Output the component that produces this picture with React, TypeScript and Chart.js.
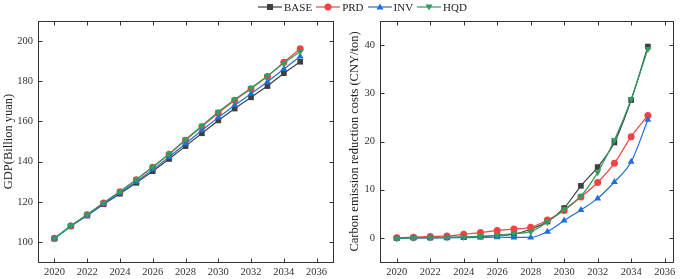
import React, { useEffect, useRef } from "react";
import { Chart, registerables } from "chart.js";
Chart.register(...registerables);

const years = [2020, 2021, 2022, 2023, 2024, 2025, 2026, 2027, 2028, 2029, 2030, 2031, 2032, 2033, 2034, 2035];
const xTicks = [2020, 2022, 2024, 2026, 2028, 2030, 2032, 2034, 2036];
const gdpTicks = [100, 120, 140, 160, 180, 200];
const costTicks = [0, 10, 20, 30, 40];
const seriesNames = ["BASE", "PRD", "INV", "HQD"];

const gdpBASE = [101.7, 107.8, 113.1, 118.8, 124.0, 129.4, 135.2, 141.3, 147.7, 154.1, 160.5, 166.4, 172.0, 177.6, 184.0, 189.7];
const gdpPRD = [101.7, 107.9, 113.5, 119.4, 125.0, 131.0, 137.2, 143.6, 150.6, 157.4, 164.2, 170.5, 176.3, 182.4, 189.5, 196.2];
const gdpINV = [101.7, 107.9, 113.3, 119.0, 124.4, 130.0, 136.0, 142.3, 148.9, 155.6, 162.0, 168.0, 173.8, 179.8, 186.1, 192.3];
const gdpHQD = [101.7, 108.0, 113.6, 119.5, 125.1, 131.1, 137.4, 143.8, 151.0, 157.8, 164.8, 170.9, 176.6, 182.6, 189.1, 194.8];

const costBASE = [0, 0.05, 0.05, 0.1, 0.15, 0.3, 0.5, 0.8, 1.8, 3.4, 6.2, 10.8, 14.7, 19.8, 28.6, 39.7];
const costPRD = [0.05, 0.15, 0.3, 0.4, 0.75, 1.1, 1.55, 1.85, 2.2, 3.7, 5.7, 8.5, 11.5, 15.5, 21.0, 25.4];
const costINV = [-0.1, 0, 0, 0, 0.05, 0.1, 0.15, 0.1, 0.1, 1.3, 3.6, 5.8, 8.2, 11.6, 15.8, 24.5];
const costHQD = [-0.1, 0, 0.05, 0.1, 0.2, 0.35, 0.6, 0.9, 1.3, 3.3, 5.9, 8.7, 13.6, 20.3, 28.8, 39.2];

const colors = ["#3f3f3f", "#f04343", "#1f6fdb", "#2f9e5f"];
const pointStyles = ["rect", "circle", "triangle", "triangle"];
const pointRotations = [0, 0, 0, 180];
const pointRadii = [4, 3.5, 4, 4];
const drawOrder = [3, 2, 1, 0];

const FONT = "'Liberation Serif', 'Times New Roman', serif";
const TEXT = "#333";

const framePlugin = {
  id: "frame",
  beforeDatasetsDraw(chart: any) {
    const { ctx, chartArea: a, scales } = chart;
    const L = Math.round(a.left) + 0.5;
    const R = Math.round(a.right) + 0.5;
    const T = Math.round(a.top) + 0.5;
    const B = Math.round(a.bottom) + 0.5;
    const tl = 4;
    ctx.save();
    ctx.strokeStyle = "#333";
    ctx.lineWidth = 1;
    ctx.strokeRect(L, T, R - L, B - T);
    ctx.beginPath();
    for (const t of scales.x.ticks) {
      const px = Math.round(scales.x.getPixelForValue(t.value)) + 0.5;
      ctx.moveTo(px, B);
      ctx.lineTo(px, B - tl);
      ctx.moveTo(px, T);
      ctx.lineTo(px, T + tl);
    }
    for (const t of scales.y.ticks) {
      const py = Math.round(scales.y.getPixelForValue(t.value)) + 0.5;
      ctx.moveTo(L, py);
      ctx.lineTo(L + tl, py);
      ctx.moveTo(R, py);
      ctx.lineTo(R - tl, py);
    }
    ctx.stroke();
    ctx.restore();
  },
};

function buildDatasets(values: number[][], smooth: boolean) {
  return seriesNames.map((name, i) => ({
    label: name,
    data: years.map((yr, j) => ({ x: yr, y: values[i][j] })),
    borderColor: colors[i],
    backgroundColor: colors[i],
    borderWidth: 1.2,
    pointStyle: pointStyles[i],
    pointRotation: pointRotations[i],
    pointRadius: pointRadii[i],
    pointBorderWidth: 0,
    order: drawOrder[i],
    cubicInterpolationMode: smooth ? "monotone" : "default",
    tension: 0,
  }));
}

function buildOptions(cfg: {
  xMin: number; xMax: number; yMin: number; yMax: number; yTicks: number[];
  yWidth: number; padRight: number; title: string; titlePad: number;
}) {
  return {
    responsive: false,
    animation: false,
    layout: { padding: { top: 21, right: cfg.padRight, left: 0, bottom: 0 } },
    plugins: { legend: { display: false }, tooltip: { enabled: false } },
    scales: {
      x: {
        type: "linear",
        min: cfg.xMin,
        max: cfg.xMax,
        grid: { display: false, drawTicks: false },
        border: { display: false },
        afterBuildTicks: (s: any) => { s.ticks = xTicks.map((v) => ({ value: v })); },
        afterFit: (s: any) => { s.height = 17; },
        ticks: {
          font: { family: FONT, size: 10.5 },
          color: TEXT,
          padding: 4,
          maxRotation: 0,
          autoSkip: false,
          callback: (v: any) => String(v),
        },
      },
      y: {
        type: "linear",
        min: cfg.yMin,
        max: cfg.yMax,
        grid: { display: false, drawTicks: false },
        border: { display: false },
        afterBuildTicks: (s: any) => { s.ticks = cfg.yTicks.map((v) => ({ value: v })); },
        afterFit: (s: any) => { s.width = cfg.yWidth; },
        ticks: {
          font: { family: FONT, size: 10.5 },
          color: TEXT,
          padding: 5,
          callback: (v: any) => String(v),
        },
        title: {
          display: true,
          text: cfg.title,
          font: { family: FONT, size: 12.5 },
          color: "#222",
          padding: { top: cfg.titlePad, bottom: 0 },
        },
      },
    },
  };
}

function Marker({ i }: { i: number }) {
  const c = colors[i];
  let m: any;
  if (pointStyles[i] === "rect") m = <rect x={9} y={2} width={6} height={6} fill={c} />;
  else if (pointStyles[i] === "circle") m = <circle cx={12} cy={5} r={3.5} fill={c} />;
  else if (pointRotations[i] === 180) m = <polygon points="8.5,2.5 15.5,2.5 12,8.5" fill={c} />;
  else m = <polygon points="12,1.5 15.5,7.5 8.5,7.5" fill={c} />;
  return (
    <svg width={24} height={10} style={{ display: "block" }}>
      <line x1={0} y1={5} x2={24} y2={5} stroke={c} strokeWidth={1.2} />
      {m}
    </svg>
  );
}

export default function App() {
  const leftRef = useRef<HTMLCanvasElement>(null);
  const rightRef = useRef<HTMLCanvasElement>(null);

  useEffect(() => {
    const left = new Chart(leftRef.current as HTMLCanvasElement, {
      type: "line",
      data: { datasets: buildDatasets([gdpBASE, gdpPRD, gdpINV, gdpHQD], false) as any },
      options: buildOptions({
        xMin: 2019, xMax: 2037, yMin: 90, yMax: 210, yTicks: gdpTicks,
        yWidth: 38, padRight: 7, title: "GDP(Billion yuan)", titlePad: 1.5,
      }) as any,
      plugins: [framePlugin],
    });
    const right = new Chart(rightRef.current as HTMLCanvasElement, {
      type: "line",
      data: { datasets: buildDatasets([costBASE, costPRD, costINV, costHQD], true) as any },
      options: buildOptions({
        xMin: 2019, xMax: 2036.5, yMin: -5, yMax: 45, yTicks: costTicks,
        yWidth: 40, padRight: 12, title: "Carbon emission reduction costs (CNY/ton)", titlePad: 7.5,
      }) as any,
      plugins: [framePlugin],
    });
    return () => {
      left.destroy();
      right.destroy();
    };
  }, []);

  return (
    <div style={{ position: "fixed", left: 0, top: 0, width: 685, height: 279, background: "#fff" }}>
      <canvas ref={leftRef} width={340} height={279} style={{ position: "absolute", left: 0, top: 0, width: 340, height: 279 }} />
      <canvas ref={rightRef} width={345} height={279} style={{ position: "absolute", left: 340, top: 0, width: 345, height: 279 }} />
      <div style={{ position: "absolute", left: 258, top: 0, height: 14, display: "flex", alignItems: "center", fontFamily: FONT, fontSize: 11, color: "#222", whiteSpace: "nowrap" }}>
        {seriesNames.map((n, i) => (
          <div key={n} style={{ display: "flex", alignItems: "center", marginRight: 4 }}>
            <Marker i={i} />
            <span style={{ marginLeft: 2 }}>{n}</span>
          </div>
        ))}
      </div>
    </div>
  );
}
